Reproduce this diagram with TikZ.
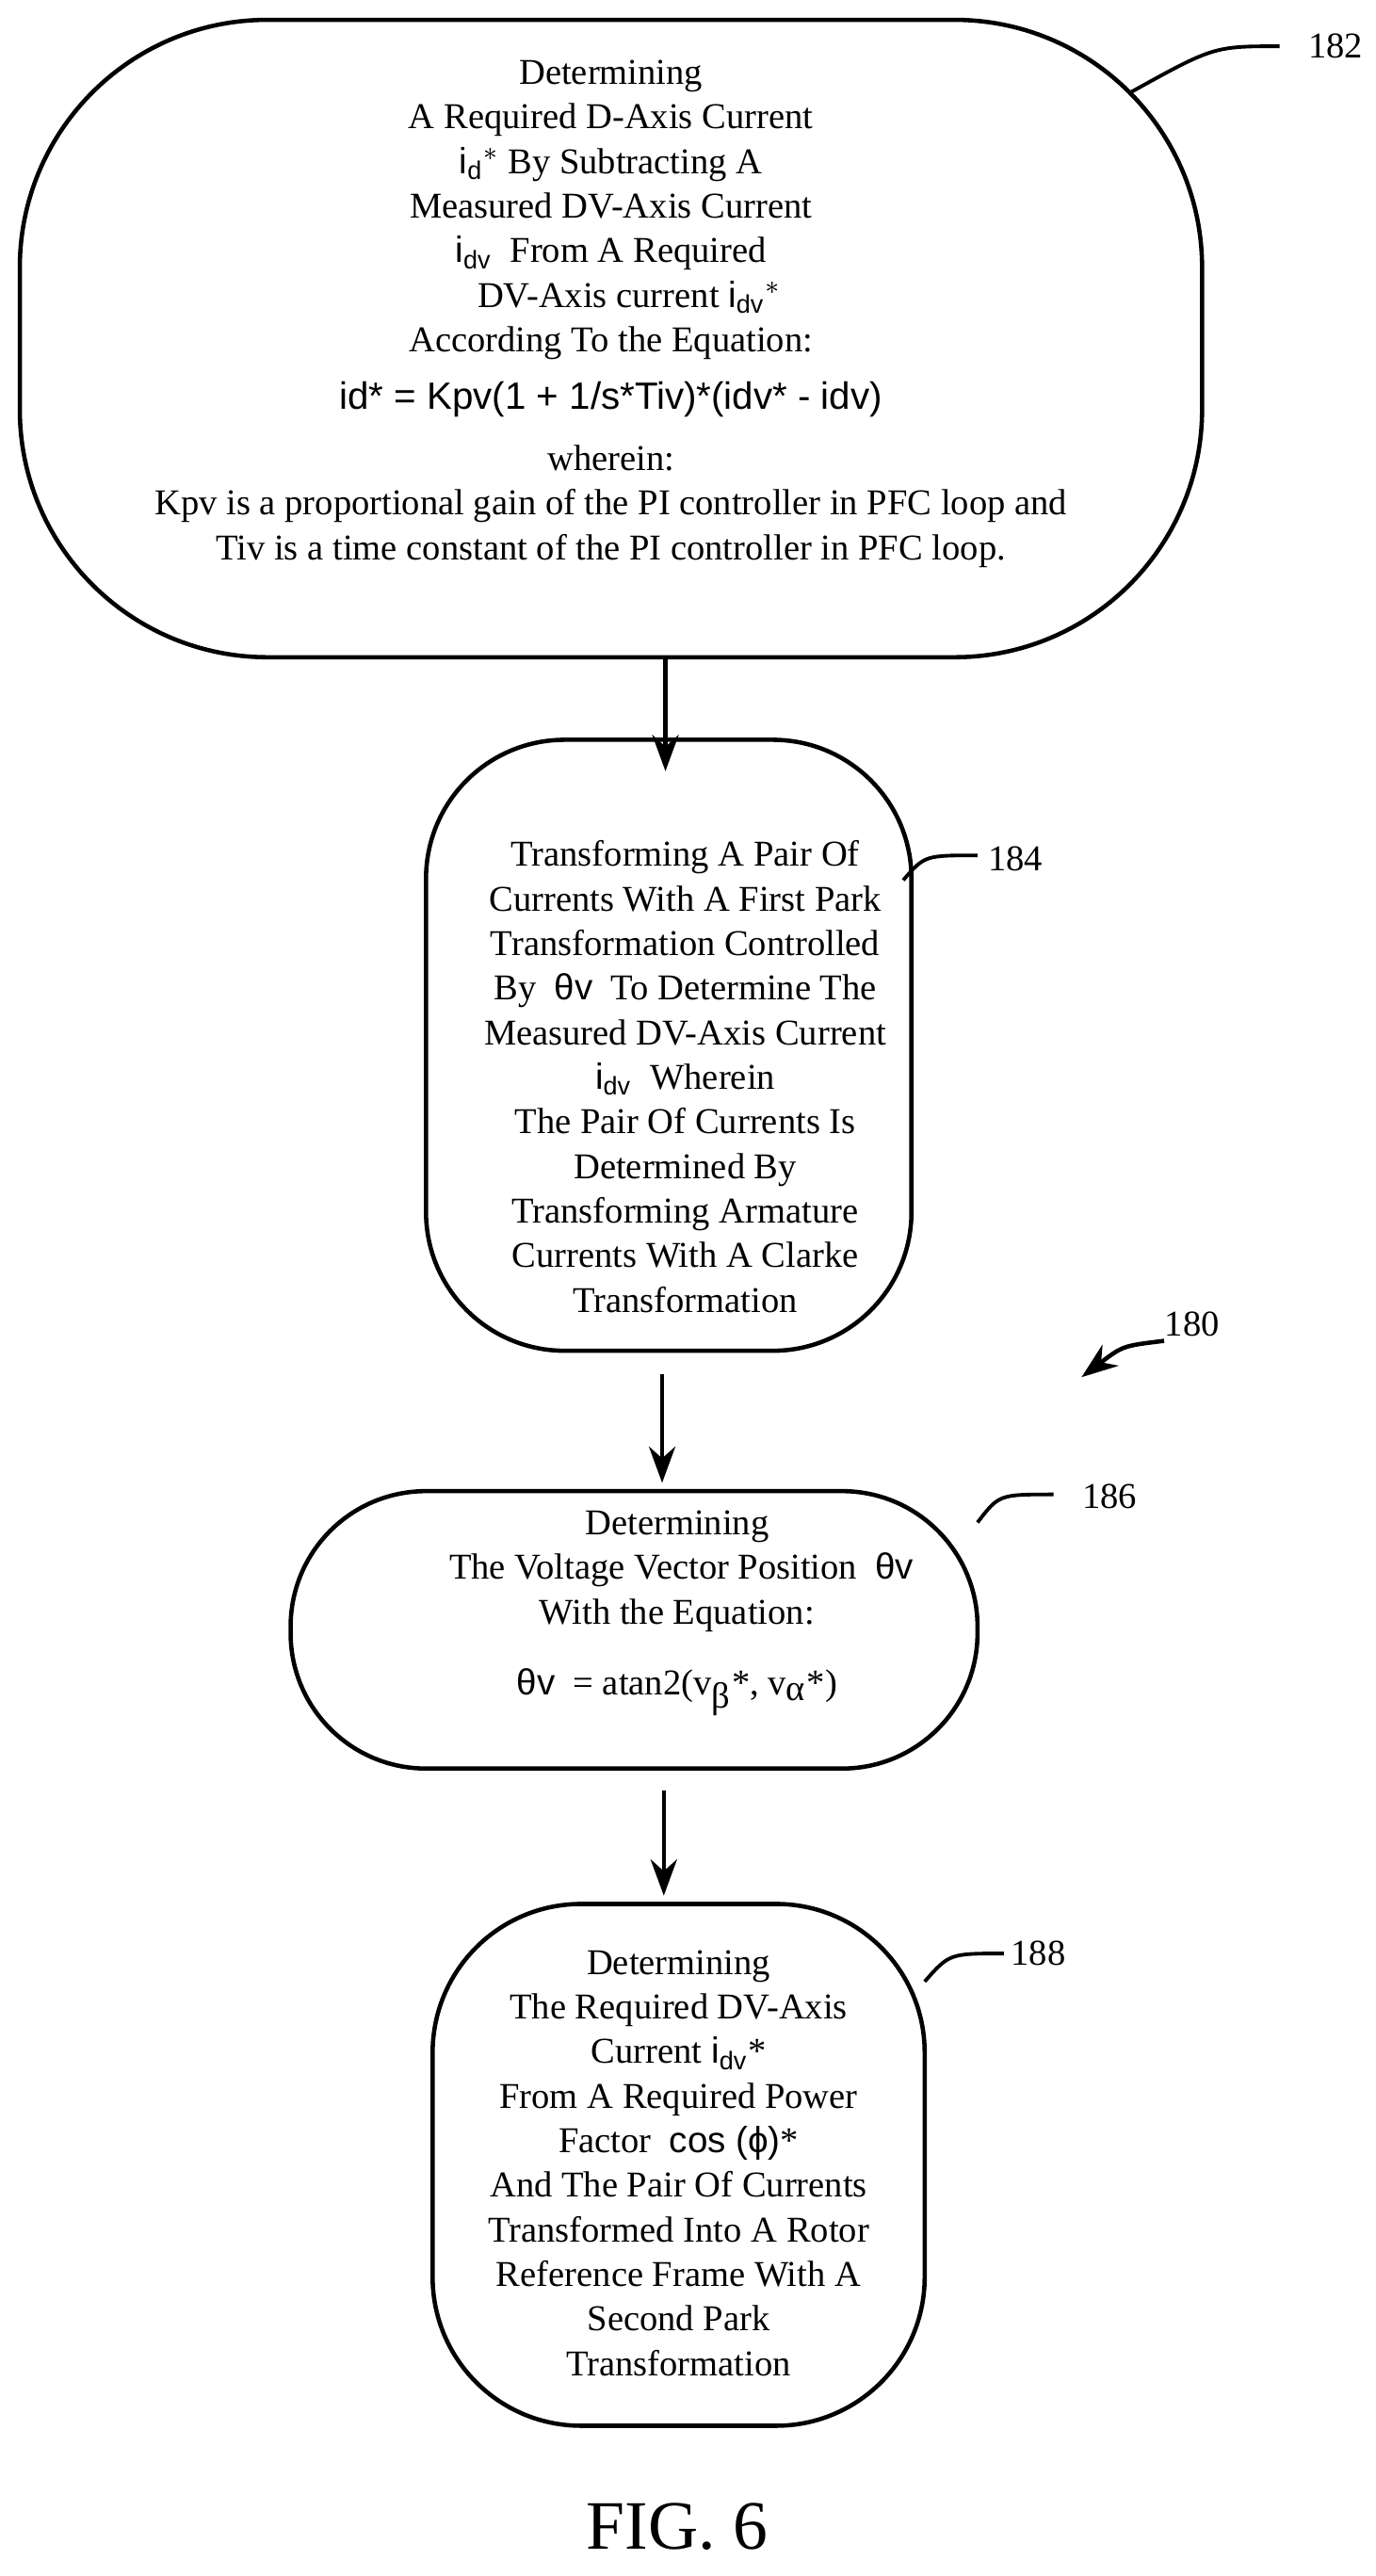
\documentclass[tikz,border=0pt]{standalone}
\usepackage{fontspec}
\setmainfont{Liberation Serif}
\setsansfont{Liberation Sans}
\usetikzlibrary{arrows.meta}
\begin{document}
\begin{tikzpicture}[x=0.5pt,y=-0.5pt,
  box/.style={draw,line width=1.3pt,inner sep=0pt},
  txt/.style={align=center,font=\fontsize{11}{13.5}\selectfont,inner sep=0pt},
  arr/.style={-{Stealth[length=11pt,width=8pt]},line width=1.3pt},
  lead/.style={line width=1.1pt},
  lab/.style={font=\fontsize{11}{13}\selectfont,inner sep=0pt}]
\useasboundingbox (0,0) rectangle (833,1560);
\node[box,minimum width=358pt,minimum height=193pt,rounded corners=75pt] (b1) at (370,205) {};
\node[txt] (t1) at (370,190) {Determining\\A Required D-Axis Current\\\textsf{i$_\mathsf{d}$}$^*$ By Subtracting A\\Measured DV-Axis Current\\\textsf{i$_\mathsf{dv}$}\ \ From A Required\\\quad DV-Axis current \textsf{i$_\mathsf{dv}$}$^*$\\According To the Equation:\\[4pt]\textsf{\fontsize{11.5}{13}\selectfont id* = Kpv(1 + 1/s*Tiv)*(idv* - idv)}\\[5pt]wherein:\\Kpv is a proportional gain of the PI controller in PFC loop and\\Tiv is a time constant of the PI controller in PFC loop.};
\node[box,minimum width=147pt,minimum height=185pt,rounded corners=42pt] (b2) at (405,633) {};
\node[txt] (t2) at (415,652) {Transforming A Pair Of\\Currents With A First Park\\Transformation Controlled\\By \ \textsf{θv}\ \ To Determine The\\Measured DV-Axis Current\\\textsf{i$_\mathsf{dv}$}\ \ Wherein\\The Pair Of Currents Is\\Determined By\\Transforming Armature\\Currents With A Clarke\\Transformation};
\node[box,minimum width=208pt,minimum height=84pt,rounded corners=41pt] (b3) at (384,987) {};
\node[txt] (t3) at (410,977) {Determining\\\ The Voltage Vector Position \ \textsf{θv}\\With the Equation:\\[8pt]\textsf{θv}\ \ = atan2(v$_\textrm{β}$*, v$_\textrm{α}$*)};
\node[box,minimum width=149pt,minimum height=158pt,rounded corners=45pt] (b4) at (411,1311) {};
\node[txt] (t4) at (411,1310) {Determining\\The Required DV-Axis\\Current \textsf{i$_\mathsf{dv}$}*\\From A Required Power\\Factor \ \textsf{cos (ϕ)}*\\And The Pair Of Currents\\Transformed Into A Rotor\\Reference Frame With A\\Second Park\\Transformation};
\draw[arr] (403,398) -- (403,467);
\draw[arr] (401,832) -- (401,898);
\draw[arr] (402,1084) -- (402,1148);
\coordinate (l1) at (775,28);
\draw[lead] (b1.north east) ++(-46,46) .. controls (735,28) .. (l1);
\node[lab,anchor=west] (n1) at (792,28) {182};
\coordinate (l2) at (592,518);
\draw[lead] (547,533) .. controls (560,518) .. (l2);
\node[lab,anchor=west] (n2) at (598,520) {184};
\coordinate (l3) at (705,812);
\draw[arr] (l3) .. controls (680,815) .. (655,834);
\node[lab,anchor=west] (n3) at (705,802) {180};
\coordinate (l4) at (638,905);
\draw[lead] (592,922) .. controls (605,905) .. (l4);
\node[lab,anchor=west] (n4) at (655,906) {186};
\coordinate (l5) at (608,1183);
\draw[lead] (560,1200) .. controls (575,1183) .. (l5);
\node[lab,anchor=west] (n5) at (612,1183) {188};
\node[inner sep=0pt,font=\fontsize{21}{24}\selectfont] (fig) at (410,1530) {FIG. 6};
\end{tikzpicture}
\end{document}
